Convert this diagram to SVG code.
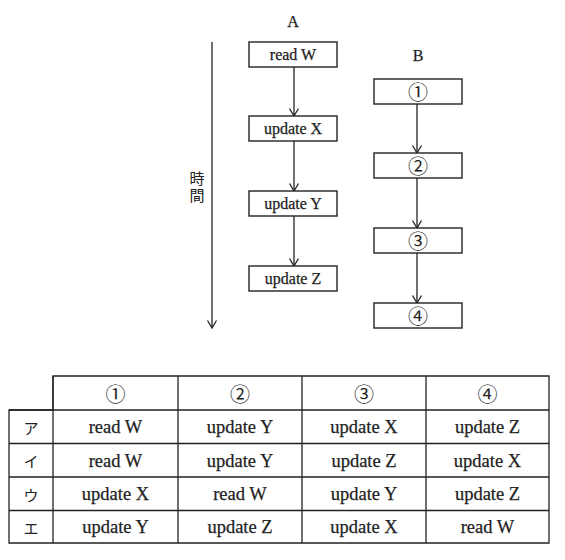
<svg xmlns="http://www.w3.org/2000/svg" width="565" height="560" viewBox="0 0 565 560">
<style>
.box{fill:#fff;stroke:#222;stroke-width:1.4}
.t{font-family:"Liberation Serif","Noto Sans CJK JP",serif;font-size:16px;fill:#222;stroke:#222;stroke-width:0.25;text-anchor:middle;dominant-baseline:central}
.tt{font-family:"Liberation Serif","Noto Sans CJK JP",serif;font-size:18.5px;fill:#222;stroke:#222;stroke-width:0.25;text-anchor:middle;dominant-baseline:central}
.c{font-family:"Noto Sans CJK JP",sans-serif;font-size:20px;fill:#222;text-anchor:middle;dominant-baseline:central}
.k{font-family:"Noto Sans CJK JP",sans-serif;font-size:15px;fill:#222;text-anchor:middle;dominant-baseline:central}
.ln{stroke:#222;stroke-width:1.3;fill:none}
.g{stroke:#222;stroke-width:1.3;fill:none}
</style>
<defs>
<marker id="ah" markerWidth="12" markerHeight="12" refX="10" refY="6" orient="auto" markerUnits="userSpaceOnUse" viewBox="0 0 12 12">
<path d="M2.5,1.5 L10,6 L2.5,10.5" fill="none" stroke="#222" stroke-width="1.3"/>
</marker>
</defs>
<rect width="565" height="560" fill="#fff"/>
<text class="t" x="293" y="21" font-size="15">A</text>
<text class="t" x="418" y="55" font-size="15">B</text>
<text class="k" x="197" y="188" font-size="14" style="writing-mode:vertical-rl" letter-spacing="2">時間</text>
<g id="connectors">
<line class="ln" x1="212" y1="42" x2="212" y2="328" marker-end="url(#ah)"/>
<line class="ln" x1="294" y1="67" x2="294" y2="116" marker-end="url(#ah)"/>
<line class="ln" x1="294" y1="141" x2="294" y2="191" marker-end="url(#ah)"/>
<line class="ln" x1="294" y1="216" x2="294" y2="266" marker-end="url(#ah)"/>
<line class="ln" x1="417" y1="104" x2="417" y2="153" marker-end="url(#ah)"/>
<line class="ln" x1="417" y1="178" x2="417" y2="228" marker-end="url(#ah)"/>
<line class="ln" x1="417" y1="253" x2="417" y2="303" marker-end="url(#ah)"/>
</g>
<g id="a1"><rect class="box" x="249" y="42" width="88" height="25"/><text class="t" x="293" y="54.5">read W</text></g>
<g id="a2"><rect class="box" x="249" y="116" width="88" height="25"/><text class="t" x="293" y="128.5">update X</text></g>
<g id="a3"><rect class="box" x="249" y="191" width="88" height="25"/><text class="t" x="293" y="203.5">update Y</text></g>
<g id="a4"><rect class="box" x="249" y="266" width="88" height="25"/><text class="t" x="293" y="278.5">update Z</text></g>
<g id="b1"><rect class="box" x="374" y="79" width="88" height="25"/><text class="c" x="418" y="91.5">①</text></g>
<g id="b2"><rect class="box" x="374" y="153" width="88" height="25"/><text class="c" x="418" y="165.5">②</text></g>
<g id="b3"><rect class="box" x="374" y="228" width="88" height="25"/><text class="c" x="418" y="240.5">③</text></g>
<g id="b4"><rect class="box" x="374" y="303" width="88" height="25"/><text class="c" x="418" y="315.5">④</text></g>
<g id="table">
<path class="g" d="M53,376 H549 V543 H9 V410 H53 Z"/>
<path class="g" d="M9,410 H549 M9,443.5 H549 M9,477 H549 M9,510.5 H549 M53,376 V543 M178,376 V543 M302,376 V543 M426,376 V543"/>
<text class="c" x="115.5" y="393">①</text>
<text class="c" x="240" y="393">②</text>
<text class="c" x="364" y="393">③</text>
<text class="c" x="487.5" y="393">④</text>
<text class="k" x="31" y="427">ア</text>
<text class="k" x="31" y="460.5">イ</text>
<text class="k" x="31" y="494">ウ</text>
<text class="k" x="31" y="527">エ</text>
<text class="tt" x="115.5" y="427">read W</text>
<text class="tt" x="240" y="427">update Y</text>
<text class="tt" x="364" y="427">update X</text>
<text class="tt" x="487.5" y="427">update Z</text>
<text class="tt" x="115.5" y="460.5">read W</text>
<text class="tt" x="240" y="460.5">update Y</text>
<text class="tt" x="364" y="460.5">update Z</text>
<text class="tt" x="487.5" y="460.5">update X</text>
<text class="tt" x="115.5" y="494">update X</text>
<text class="tt" x="240" y="494">read W</text>
<text class="tt" x="364" y="494">update Y</text>
<text class="tt" x="487.5" y="494">update Z</text>
<text class="tt" x="115.5" y="527">update Y</text>
<text class="tt" x="240" y="527">update Z</text>
<text class="tt" x="364" y="527">update X</text>
<text class="tt" x="487.5" y="527">read W</text>
</g>
</svg>
